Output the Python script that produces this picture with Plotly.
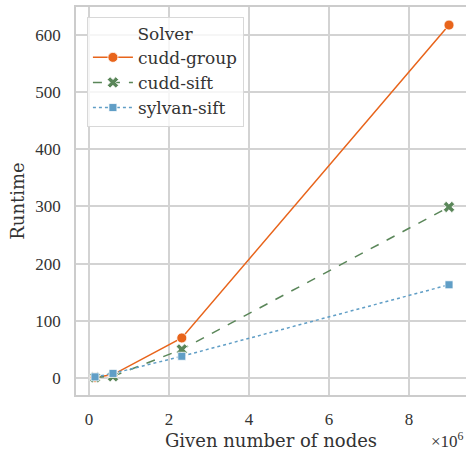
import plotly.graph_objects as go

# Runtime measurements per solver against the given number of nodes
nodes = [0.15e6, 0.6e6, 2.32e6, 9.0e6]
cudd_group = [1, 6, 70, 617]
cudd_sift = [1, 3, 50, 299]
sylvan_sift = [2, 8, 38, 163]

series = [
    ("cudd-group", cudd_group, "#e8641b", "solid", "circle", 10),
    ("cudd-sift", cudd_sift, "#5a8659", "dash", "x", 10),
    ("sylvan-sift", sylvan_sift, "#609ec6", "dot", "square", 8),
]

fig = go.Figure()
for name, vals, color, dash, symbol, size in series:
    fig.add_trace(go.Scatter(
        x=nodes, y=vals, name=name, mode="lines+markers",
        line=dict(color=color, width=1.5, dash=dash),
        marker=dict(symbol=symbol, size=size, color=color,
                    line=dict(color="white", width=0.8)),
    ))

tick_font = dict(family="Liberation Serif", size=17, color="#333333")
title_font = dict(family="DejaVu Serif", size=18, color="#333333")
legend_font = dict(family="DejaVu Serif", size=17, color="#333333")

fig.update_layout(
    width=466, height=458,
    margin=dict(l=76, r=0, t=7, b=63),
    paper_bgcolor="white", plot_bgcolor="white",
    font=legend_font,
    legend=dict(
        x=0.028, y=0.975, xanchor="left", yanchor="top",
        bgcolor="rgba(255,255,255,0.8)", bordercolor="#d8d8d8", borderwidth=1,
        title=dict(text="Solver", side="top center", font=legend_font),
        font=legend_font, tracegroupgap=2, itemwidth=40,
    ),
)
fig.update_xaxes(
    range=[-0.325e6, 9.425e6], tickvals=[0, 2e6, 4e6, 6e6, 8e6],
    ticktext=["0", "2", "4", "6", "8"], tickfont=tick_font,
    showgrid=True, gridcolor="#d3d3d3", gridwidth=1.5, zeroline=False,
    showline=True, linecolor="#cccccc", linewidth=1.5, mirror=True,
    ticks="outside", ticklen=8, tickcolor="rgba(0,0,0,0)",
    title=dict(text="Given number of nodes", font=title_font, standoff=6),
)
fig.update_yaxes(
    range=[-29.7, 648.6], tickvals=[0, 100, 200, 300, 400, 500, 600],
    tickfont=tick_font,
    showgrid=True, gridcolor="#d3d3d3", gridwidth=1.5, zeroline=False,
    showline=True, linecolor="#cccccc", linewidth=1.5, mirror=False,
    ticks="outside", ticklen=10, tickcolor="rgba(0,0,0,0)",
    title=dict(text="Runtime", font=title_font, standoff=6),
)
fig.add_annotation(
    text="×10<sup>6</sup>", xref="paper", yref="paper", x=1.0, y=-0.115,
    xanchor="right", yanchor="middle", showarrow=False,
    font=dict(family="Liberation Serif", size=17, color="#333333"),
)

fig.write_html("out.html")
